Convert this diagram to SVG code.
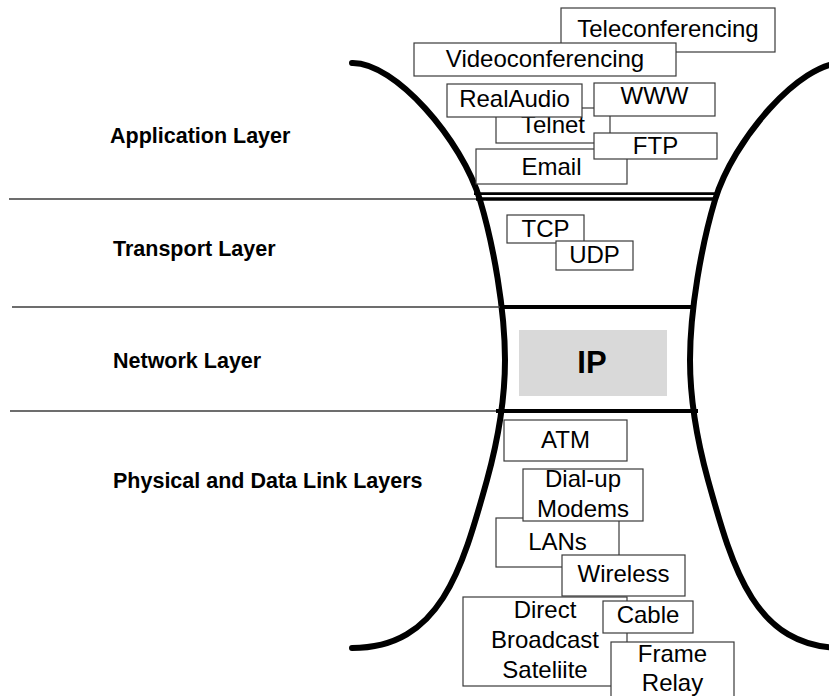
<svg xmlns="http://www.w3.org/2000/svg" width="829" height="696" viewBox="0 0 829 696">
<style>
.t{font-family:"Liberation Sans",Arial,Helvetica,sans-serif;font-size:24px;text-anchor:middle;fill:#000}
.lbl{font-family:"Liberation Sans",Arial,Helvetica,sans-serif;font-size:21.5px;font-weight:bold;fill:#000}
.box{fill:#fff;stroke:#3a3a3a;stroke-width:1.2}
.thin{stroke:#3c3c3c;stroke-width:1.5;fill:none}
.thick{stroke:#000;fill:none}
.curve{stroke:#000;stroke-width:6;fill:none;stroke-linecap:round}
</style>
<rect width="829" height="696" fill="#fff"/>
<g id="layers">
<path id="left-curve" class="curve" d="M352,63 C395,62 462,140 480,200 C493.5,245 505,310 505,360 C505,400 498,440 487,480 C462,570 440,648 352,648"/>
<path id="right-curve" class="curve" transform="translate(1195,0) scale(-1,1)" d="M352,63 C395,62 462,140 480,200 C493.5,245 505,310 505,360 C505,400 498,440 487,480 C462,570 440,648 352,648"/>
<line class="thin" x1="9" y1="199" x2="477" y2="199"/>
<line class="thin" x1="12" y1="307" x2="502" y2="307"/>
<line class="thin" x1="10" y1="411" x2="497" y2="411"/>
<line class="thick" stroke-width="2.7" x1="474" y1="193.7" x2="718" y2="193.7"/>
<line class="thick" stroke-width="3.3" x1="476" y1="199" x2="716" y2="199"/>
<line class="thick" stroke-width="4" x1="500" y1="307" x2="694" y2="307"/>
<line class="thick" stroke-width="4" x1="496" y1="411" x2="698" y2="411"/>
</g>
<g id="labels">
<text class="lbl" x="110" y="143">Application Layer</text>
<text class="lbl" x="113" y="256">Transport Layer</text>
<text class="lbl" x="113" y="368">Network Layer</text>
<text class="lbl" x="113" y="488">Physical and Data Link Layers</text>
</g>
<g id="connectors"></g>
<g id="teleconferencing"><rect class="box" x="561" y="8" width="214" height="44"/><text class="t" x="668" y="37">Teleconferencing</text></g>
<g id="videoconferencing"><rect class="box" x="414" y="43" width="262" height="33"/><text class="t" x="545" y="67">Videoconferencing</text></g>
<g id="telnet"><rect class="box" x="496" y="108" width="114" height="35"/><text class="t" x="553" y="133">Telnet</text></g>
<g id="realaudio"><rect class="box" x="447" y="84" width="135" height="33"/><text class="t" x="514.5" y="107">RealAudio</text></g>
<g id="www"><rect class="box" x="594" y="83" width="121" height="33"/><text class="t" x="654.5" y="104">WWW</text></g>
<g id="email"><rect class="box" x="476" y="149" width="151" height="35"/><text class="t" x="551.5" y="175">Email</text></g>
<g id="ftp"><rect class="box" x="594" y="133" width="123" height="26"/><text class="t" x="655.5" y="154">FTP</text></g>
<g id="tcp"><rect class="box" x="507" y="215" width="77" height="28"/><text class="t" x="545.5" y="237">TCP</text></g>
<g id="udp"><rect class="box" x="556" y="241" width="77" height="29"/><text class="t" x="594.5" y="263">UDP</text></g>
<g id="ip"><rect x="519" y="330" width="148" height="66" fill="#d9d9d9"/><text class="t" x="592" y="373" style="font-weight:bold;font-size:31px">IP</text></g>
<g id="atm"><rect class="box" x="504" y="420" width="123" height="41"/><text class="t" x="565.5" y="448">ATM</text></g>
<g id="lans"><rect class="box" x="496" y="518" width="123" height="49"/><text class="t" x="557.5" y="550">LANs</text></g>
<g id="dialup"><rect class="box" x="523" y="469" width="120" height="52"/><text class="t" x="583" y="487">Dial-up</text><text class="t" x="583" y="517">Modems</text></g>
<g id="wireless"><rect class="box" x="562" y="555" width="123" height="41"/><text class="t" x="623.5" y="582">Wireless</text></g>
<g id="dbs"><rect class="box" x="463" y="597" width="164" height="89"/><text class="t" x="545" y="618">Direct</text><text class="t" x="545" y="648">Broadcast</text><text class="t" x="545" y="678">Sateliite</text></g>
<g id="cable"><rect class="box" x="603" y="601" width="90" height="32"/><text class="t" x="648" y="623">Cable</text></g>
<g id="framerelay"><rect class="box" x="611" y="642" width="123" height="62"/><text class="t" x="672.5" y="662">Frame</text><text class="t" x="672.5" y="691">Relay</text></g>
</svg>
